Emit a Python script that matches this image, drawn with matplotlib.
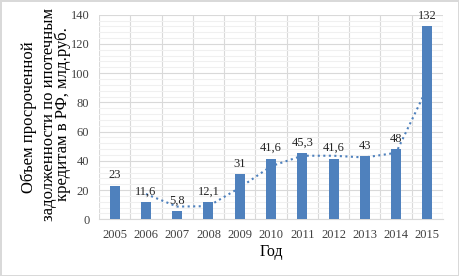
import matplotlib
matplotlib.use('Agg')
import matplotlib.pyplot as plt
import numpy as np
from matplotlib.ticker import MultipleLocator

years = ['2005', '2006', '2007', '2008', '2009', '2010', '2011', '2012', '2013', '2014', '2015']
values = [23, 11.6, 5.8, 12.1, 31, 41.6, 45.3, 41.6, 43, 48, 132]
labels = ['23', '11,6', '5,8', '12,1', '31', '41,6', '45,3', '41,6', '43', '48', '132']
# скользящее среднее (2 периода)
trend = [17.3, 8.7, 9.0, 21.6, 36.3, 43.5, 43.5, 42.3, 45.5, 90]
ylabel_lines = ['Объем просроченной', 'задолженности по ипотечным', 'кредитам в РФ, млд.руб.']

plt.rcParams['font.family'] = ['Liberation Serif', 'DejaVu Serif']

fig = plt.figure(figsize=(4.59, 2.76), dpi=100)
fig.patch.set_edgecolor('#d9d9d9')
fig.patch.set_linewidth(2)
ax = fig.add_axes([0.2157, 0.2054, 0.7493, 0.7413])

x = np.arange(len(years))
bar_color = '#4F81BD'
ax.bar(x, values, width=0.32, color=bar_color, zorder=3)
ax.plot(x[1:], trend, linestyle=':', color='#4F81BD', linewidth=1.5, zorder=2)

for xi, v, lab in zip(x, values, labels):
    ax.text(xi, v + 3, lab, ha='center', va='bottom', fontsize=9, color='#262626', zorder=4)

ax.set_xlim(-0.5, len(years) - 0.5)
ax.set_ylim(0, 140)
ax.set_xticks(x)
ax.set_xticklabels(years, fontsize=9)
ax.set_xticks(np.arange(-0.5, len(years), 1), minor=True)
ax.yaxis.set_major_locator(MultipleLocator(20))
ax.yaxis.set_minor_locator(MultipleLocator(4))
ax.tick_params(axis='both', which='both', length=0, labelsize=9, colors='#404040')
ax.tick_params(axis='x', pad=7)
ax.tick_params(axis='y', pad=7)

ax.grid(axis='y', which='major', color='#d9d9d9', linewidth=0.8, zorder=0)
ax.grid(axis='y', which='minor', color='#f0f0f0', linewidth=0.8, zorder=0)
ax.grid(axis='x', which='minor', color='#d9d9d9', linewidth=0.8, zorder=0)
ax.grid(axis='x', which='major', visible=False)
ax.set_axisbelow(True)

for side in ['top', 'right', 'left']:
    ax.spines[side].set_visible(False)
ax.spines['bottom'].set_color('#d9d9d9')

ax.set_xlabel('Год', fontsize=11.5, labelpad=2)

# подпись оси Y
fig.text(28.5 / 459, 1 - 117.5 / 276, ylabel_lines[0], rotation=90,
         ha='center', va='center', fontsize=12)
fig.text(56 / 459, 1 - 114.5 / 276, ylabel_lines[1] + '\n' + ylabel_lines[2], rotation=90,
         ha='center', va='center', multialignment='center', fontsize=12, linespacing=0.78)

fig.savefig('out.png', dpi=100)
